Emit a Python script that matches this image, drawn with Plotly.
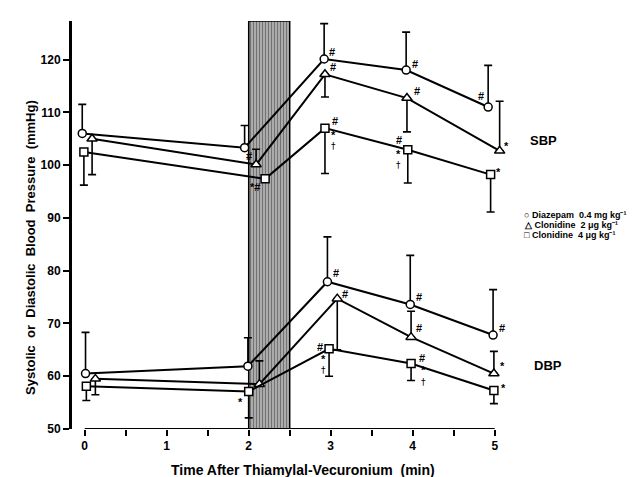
import plotly.graph_objects as go

# ---------------- data ----------------
times = [0, 2, 3, 4, 5]
x_tick_vals = [0, 0.5, 1, 1.5, 2, 2.5, 3, 3.5, 4, 4.5, 5]
x_tick_text = ["0", " ", "1", " ", "2", " ", "3", " ", "4", " ", "5"]
y_tick_vals = [50, 60, 70, 80, 90, 100, 110, 120]

band_start = 2.0
band_end = 2.5

# measured x positions of points (small offsets to avoid overlap)
sbp_diaz_x = [-0.03, 1.95, 2.92, 3.92, 4.92]
sbp_clo2_x = [0.09, 2.09, 2.93, 3.93, 5.06]
sbp_clo4_x = [-0.01, 2.20, 2.93, 3.94, 4.95]
dbp_diaz_x = [0.01, 1.99, 2.96, 3.97, 4.98]
dbp_clo2_x = [0.13, 2.13, 3.08, 3.98, 4.99]
dbp_clo4_x = [0.02, 2.00, 2.98, 3.98, 4.99]

sbp_diaz = [106.0, 103.3, 120.1, 118.0, 111.0]
sbp_diaz_up = [5.5, 4.2, 6.7, 7.2, 7.9]
sbp_diaz_dn = [0, 0, 0, 0, 0]

sbp_clo2 = [105.0, 100.1, 117.2, 112.7, 102.7]
sbp_clo2_up = [0, 2.9, 0, 0, 9.4]
sbp_clo2_dn = [6.8, 0, 4.3, 6.4, 0]

sbp_clo4 = [102.5, 97.4, 107.0, 102.9, 98.2]
sbp_clo4_up = [0, 0, 0, 0, 0]
sbp_clo4_dn = [6.3, 0, 8.6, 6.3, 7.1]

dbp_diaz = [60.5, 61.9, 77.9, 73.6, 67.8]
dbp_diaz_up = [7.8, 5.4, 8.5, 9.3, 8.6]
dbp_diaz_dn = [0, 0, 0, 0, 0]

dbp_clo2 = [59.5, 58.5, 74.7, 67.4, 60.5]
dbp_clo2_up = [0, 4.4, 0, 4.9, 4.2]
dbp_clo2_dn = [3.0, 0, 9.7, 0, 0]

dbp_clo4 = [58.1, 57.1, 65.2, 62.4, 57.3]
dbp_clo4_up = [0, 0, 0, 0, 0]
dbp_clo4_dn = [2.7, 5.0, 5.2, 3.2, 2.5]

legend_names = ["Diazepam  0.4 mg kg\u207b\u00b9",
                "Clonidine  2 \u03bcg kg\u207b\u00b9",
                "Clonidine  4 \u03bcg kg\u207b\u00b9"]
legend_glyphs = ["\u25cb", "\u25b3", "\u25a1"]

# significance marks: (series key, point index, text, dx px, dy px up)
marks = [
    ("sbp_diaz", 1, "#", 4, -8),
    ("sbp_diaz", 2, "#", 8, 7),
    ("sbp_diaz", 3, "#", 9, 6),
    ("sbp_diaz", 4, "#", -7, 11),
    ("sbp_clo2", 2, "#", 8, 7),
    ("sbp_clo2", 3, "#", 10, 7),
    ("sbp_clo2", 4, "*", 7, 5),
    ("sbp_clo4", 1, "*#", -10, -8),
    ("sbp_clo4", 2, "#", 10, 7),
    ("sbp_clo4", 2, "*", 9, -7),
    ("sbp_clo4", 2, "\u2020", 9, -18),
    ("sbp_clo4", 3, "#", -9, 10),
    ("sbp_clo4", 3, "*", -9, -4),
    ("sbp_clo4", 3, "\u2020", -9, -15),
    ("sbp_clo4", 4, "*", 8, 3),
    ("dbp_diaz", 2, "#", 9, 9),
    ("dbp_diaz", 3, "#", 9, 7),
    ("dbp_diaz", 4, "#", 9, 7),
    ("dbp_clo2", 2, "#", 8, 5),
    ("dbp_clo2", 3, "#", 8, 9),
    ("dbp_clo2", 4, "*", 9, 8),
    ("dbp_clo4", 1, "*", -8, -10),
    ("dbp_clo4", 2, "#", -9, 2),
    ("dbp_clo4", 2, "*", -6, -10),
    ("dbp_clo4", 2, "\u2020", -6, -21),
    ("dbp_clo4", 3, "#", 11, 6),
    ("dbp_clo4", 3, "*", 12, -6),
    ("dbp_clo4", 3, "\u2020", 12, -18),
    ("dbp_clo4", 4, "*", 10, 2),
]

# ---------------- figure ----------------
Y_MIN, Y_MAX = 50, 127.3
X_MIN, X_MAX = -0.155, 5.162

fig = go.Figure()

# shaded band (injection period)
fig.add_trace(go.Bar(
    x=[(band_start + band_end) / 2], y=[Y_MAX - Y_MIN], base=[Y_MIN],
    width=[band_end - band_start],
    marker=dict(color="#a0a0a0",
                pattern=dict(shape="|", fgcolor="#2a2a2a", bgcolor="#bdbdbd",
                             size=3, solidity=0.5),
                line=dict(color="black", width=1.5)),
    showlegend=False, hoverinfo="skip"))

series = {
    "sbp_diaz": (sbp_diaz_x, sbp_diaz, sbp_diaz_up, sbp_diaz_dn, "circle", 8),
    "sbp_clo2": (sbp_clo2_x, sbp_clo2, sbp_clo2_up, sbp_clo2_dn, "triangle-up", 9),
    "sbp_clo4": (sbp_clo4_x, sbp_clo4, sbp_clo4_up, sbp_clo4_dn, "square", 8),
    "dbp_diaz": (dbp_diaz_x, dbp_diaz, dbp_diaz_up, dbp_diaz_dn, "circle", 8),
    "dbp_clo2": (dbp_clo2_x, dbp_clo2, dbp_clo2_up, dbp_clo2_dn, "triangle-up", 9),
    "dbp_clo4": (dbp_clo4_x, dbp_clo4, dbp_clo4_up, dbp_clo4_dn, "square", 8),
}

for key, (xs, ys, up, dn, sym, sz) in series.items():
    fig.add_trace(go.Scatter(
        x=xs, y=ys, mode="lines+markers",
        line=dict(color="black", width=2),
        marker=dict(symbol=sym, size=sz, color="white",
                    line=dict(color="black", width=1.5)),
        error_y=dict(type="data", symmetric=False, array=up, arrayminus=dn,
                     color="black", thickness=1.6, width=4),
        showlegend=False, hoverinfo="skip", cliponaxis=False))

mark_font = dict(family="Liberation Sans", size=11, color="black", weight="bold")
dagger_font = dict(family="DejaVu Sans", size=9, color="black")
annotations = []
for key, i, txt, dx, dy in marks:
    xs, ys = series[key][0], series[key][1]
    annotations.append(dict(x=xs[i], y=ys[i], xref="x", yref="y", text=txt,
                            showarrow=False, xshift=dx, yshift=dy,
                            font=dagger_font if txt == "\u2020" else mark_font))

# pixel -> paper helpers for free text placement
L, R, T, B = 64, 500, 13, 421
def px(x):
    return (x - L) / (R - L)
def py(y):
    return (B - y) / (B - T)

annotations.append(dict(x=px(535), y=py(132), xref="paper", yref="paper",
                        xanchor="center", yanchor="middle",
                        text="SBP", showarrow=False,
                        font=dict(family="Liberation Sans", size=13,
                                  color="black", weight="bold")))
annotations.append(dict(x=px(540), y=py(357), xref="paper", yref="paper",
                        xanchor="center", yanchor="middle",
                        text="DBP", showarrow=False,
                        font=dict(family="Liberation Sans", size=13,
                                  color="black", weight="bold")))

for k, (g, name) in enumerate(zip(legend_glyphs, legend_names)):
    annotations.append(dict(x=px(514), y=py(207 + 10 * k), xref="paper",
                            yref="paper", xanchor="left", yanchor="middle",
                            text=g + " " + name, showarrow=False,
                            font=dict(family="Liberation Sans", size=9,
                                      color="black", weight="bold")))

annotations.append(dict(x=px(22), y=py(240), xref="paper", yref="paper",
                        xanchor="center", yanchor="middle",
                        text="Systolic  or  Diastolic  Blood  Pressure  (mmHg)",
                        textangle=-90, showarrow=False,
                        font=dict(family="Liberation Sans", size=13,
                                  color="black", weight="bold")))
annotations.append(dict(x=px(295), y=py(462), xref="paper", yref="paper",
                        xanchor="center", yanchor="middle",
                        text="Time After Thiamylal-Vecuronium  (min)",
                        showarrow=False,
                        font=dict(family="Liberation Sans", size=14,
                                  color="black", weight="bold")))

shapes = [
    # detached x axis line, from 0 to 5
    dict(type="line", xref="x", yref="y", x0=times[0], x1=times[-1],
         y0=Y_MIN, y1=Y_MIN, line=dict(color="black", width=2)),
]

fig.update_layout(
    width=644, height=477,
    margin=dict(l=L, r=644 - R, t=T, b=477 - B),
    plot_bgcolor="white", paper_bgcolor="white",
    showlegend=False,
    annotations=annotations, shapes=shapes,
    xaxis=dict(range=[X_MIN, X_MAX], tickvals=x_tick_vals, ticktext=x_tick_text,
               ticks="outside", ticklen=6, tickwidth=2, tickcolor="black",
               showline=False, showgrid=False, zeroline=False,
               tickfont=dict(family="Liberation Sans", size=12, color="black",
                             weight="bold")),
    yaxis=dict(range=[Y_MIN, Y_MAX], tickvals=y_tick_vals,
               ticks="outside", ticklen=6, tickwidth=2, tickcolor="black",
               showline=True, linewidth=3, linecolor="black",
               showgrid=False, zeroline=False,
               tickfont=dict(family="Liberation Sans", size=12, color="black",
                             weight="bold")),
)

fig.write_html("out.html")
